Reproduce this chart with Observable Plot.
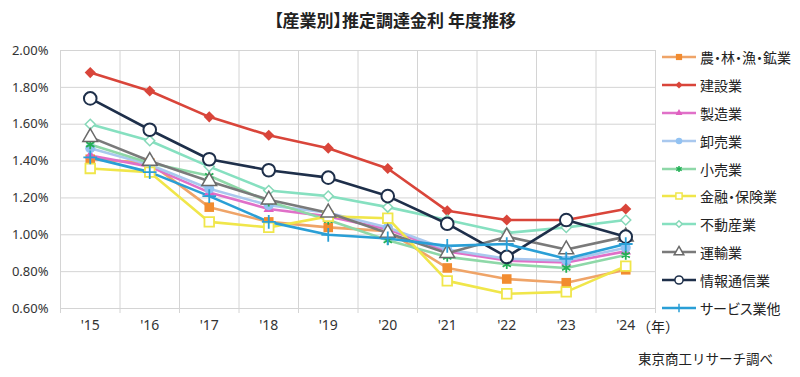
<!DOCTYPE html>
<html><head><meta charset="utf-8">
<script src="https://cdn.jsdelivr.net/npm/d3@7"></script>
<script src="https://cdn.jsdelivr.net/npm/@observablehq/plot@0.6"></script>
<style>
html,body{margin:0;padding:0;background:#fff;}
#wrap{position:relative;width:800px;height:377px;overflow:hidden;font-family:"Noto Sans CJK JP","Noto Sans",sans-serif;color:#222;}
#title{position:absolute;left:0;width:790px;top:7px;text-align:center;font-size:17px;font-weight:bold;font-feature-settings:"palt";}
#chart{position:absolute;left:0;top:40px;}
#legend{position:absolute;left:660px;top:43px;}
.li{display:flex;align-items:center;height:27.9px;font-size:14px;white-space:nowrap;font-feature-settings:"palt";}
.li svg{margin-right:2px;}
#cap{position:absolute;left:638px;top:348px;font-size:13.5px;}
#nen{position:absolute;left:637px;top:316px;font-size:14px;}
</style></head>
<body><div id="wrap"><div id="title">【産業別】推定調達金利 年度推移</div><div id="chart"></div><div id="legend"></div><div id="nen">（年）</div><div id="cap">東京商工リサーチ調べ</div></div>
<script>
const years = [2015,2016,2017,2018,2019,2020,2021,2022,2023,2024];
const yearLabels = ["'15","'16","'17","'18","'19","'20","'21","'22","'23","'24"];
const yTicks = [0.6,0.8,1.0,1.2,1.4,1.6,1.8,2.0];

const agri        = [1.41,1.39,1.15,1.07,1.04,1.02,0.82,0.76,0.74,0.81];
const construction= [1.88,1.78,1.64,1.54,1.47,1.36,1.13,1.08,1.08,1.14];
const manuf       = [1.43,1.37,1.23,1.14,1.10,1.03,0.91,0.86,0.85,0.91];
const wholesale   = [1.47,1.38,1.25,1.16,1.12,1.04,0.92,0.87,0.86,0.93];
const retail      = [1.49,1.39,1.32,1.18,1.08,0.97,0.88,0.84,0.82,0.89];
const finance     = [1.36,1.34,1.07,1.04,1.10,1.09,0.75,0.68,0.69,0.83];
const realestate  = [1.60,1.51,1.37,1.24,1.21,1.15,1.08,1.01,1.04,1.08];
const transport   = [1.53,1.40,1.29,1.19,1.12,1.01,0.90,0.99,0.92,0.99];
const ict         = [1.74,1.57,1.41,1.35,1.31,1.21,1.06,0.88,1.08,0.99];
const service     = [1.42,1.34,1.21,1.07,1.00,0.98,0.94,0.95,0.87,0.95];

const names = ["農・林・漁・鉱業","建設業","製造業","卸売業","小売業","金融・保険業","不動産業","運輸業","情報通信業","サービス業他"];
const seriesVals = [agri,construction,manuf,wholesale,retail,finance,realestate,transport,ict,service];
const styles = [
 {line:"#EFA468", sym:"square",   r:5.4, fill:"#F28C30", stroke:"none", sw:0},
 {line:"#D9453A", sym:"diamond2", r:5,   fill:"#D9453A", stroke:"none", sw:0},
 {line:"#E070C8", sym:"triangle2",r:5,   fill:"#E060C0", stroke:"none", sw:0},
 {line:"#A9C8EE", sym:"circle",   r:5,   fill:"#92C2F2", stroke:"none", sw:0},
 {line:"#8ED8A8", sym:"asterisk", r:4.5, fill:"none",    stroke:"#22B055", sw:1.8},
 {line:"#F0E64A", sym:"square",   r:5.4, fill:"#fff",    stroke:"#F0E64A", sw:1.8},
 {line:"#86E0C0", sym:"diamond2", r:4.5, fill:"#fff",    stroke:"#86D8B8", sw:1.5},
 {line:"#7A7A7A", sym:"triangle", r:5.5, fill:"#fff",    stroke:"#6A6A6A", sw:1.5},
 {line:"#1E2F4A", sym:"circle",   r:6.3, fill:"#fff",    stroke:"#1E2F4A", sw:2},
 {line:"#2A9FD6", sym:"plus",     r:4.5, fill:"none",    stroke:"#2A9FD6", sw:1.8}
];

const table = [];
names.forEach((n,si)=>seriesVals[si].forEach((v,i)=>table.push({name:n, si, year:years[i], value:v})));

const marks = [
  Plot.ruleY(yTicks, {stroke:"#d4d4d4", strokeWidth:1}),
  Plot.ruleX(years.map(y=>y-0.5).concat([years[years.length-1]+0.5]), {stroke:"#d4d4d4", strokeWidth:1, insetBottom:-5})
];
names.forEach((n,si)=>{
  const d = table.filter(r=>r.si===si);
  marks.push(Plot.line(d,{x:"year",y:"value",stroke:styles[si].line,strokeWidth:2.6}));
});
names.forEach((n,si)=>{
  const d = table.filter(r=>r.si===si);
  const s = styles[si];
  marks.push(Plot.dot(d,{x:"year",y:"value",symbol:()=>s.sym,r:s.r,fill:s.fill,stroke:s.stroke,strokeWidth:s.sw}));
});

const chart = Plot.plot({
  width:800, height:337,
  marginTop:10, marginBottom:69, marginLeft:60, marginRight:145,
  style:{fontFamily:"'Noto Sans','Noto Sans CJK JP',sans-serif", fontSize:"13px", color:"#333", background:"transparent"},
  x:{domain:[years[0]-0.5, years[years.length-1]+0.5], ticks:years, tickFormat:d=>yearLabels[years.indexOf(d)], tickSize:0, tickPadding:12, label:null},
  y:{domain:[0.6,2.0], ticks:yTicks, tickFormat:d=>d.toFixed(2)+"%", tickSize:0, tickPadding:12, label:null},
  symbol:{type:"identity"},
  marks
});
chart.querySelectorAll('[aria-label="x-axis tick label"] text').forEach(t=>t.setAttribute("font-size","14"));
document.getElementById("chart").appendChild(chart);

const leg = document.getElementById("legend");
const symMap = {square:d3.symbolSquare, diamond2:d3.symbolDiamond2, triangle2:d3.symbolTriangle2, circle:d3.symbolCircle, asterisk:d3.symbolAsterisk, triangle:d3.symbolTriangle, plus:d3.symbolPlus};
names.forEach((n,si)=>{
  const s = styles[si];
  const div = document.createElement("div"); div.className="li";
  const size = Math.PI*s.r*s.r*0.42;
  const p = d3.symbol(symMap[s.sym], size)();
  div.innerHTML = `<svg width="38" height="16"><line x1="2" x2="36" y1="8" y2="8" stroke="${s.line}" stroke-width="2.4"/><path transform="translate(19,8)" d="${p}" fill="${s.fill}" stroke="${s.stroke}" stroke-width="${Math.min(s.sw,1.5)}"/></svg><span>${n}</span>`;
  leg.appendChild(div);
});
</script></body></html>
